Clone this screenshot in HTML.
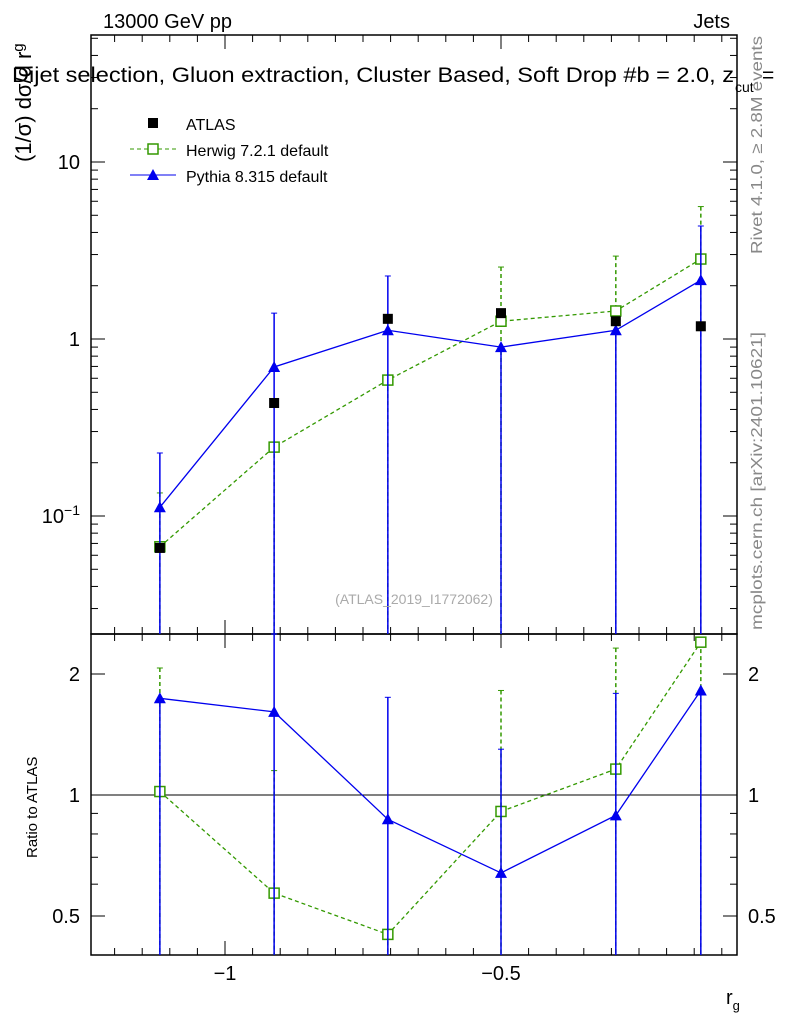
<!DOCTYPE html>
<html><head><meta charset="utf-8"><style>
body{margin:0;background:#fff;}
svg{font-family:"Liberation Sans",sans-serif;}
</style></head><body>
<svg id="c" width="786" height="1024" xmlns="http://www.w3.org/2000/svg"></svg>
<script>
const xCenters=[-1.118,-0.911,-0.705,-0.5,-0.292,-0.138];
const atlasVals=[0.066,0.435,1.30,1.40,1.26,1.18];
const herwigVals=[0.067,0.245,0.586,1.26,1.44,2.83];
const herwigErrUp=[0.135,0.245,0.586,2.55,2.94,5.6];
const pythiaVals=[0.112,0.695,1.12,0.90,1.12,2.15];
const pythiaErrUp=[0.227,1.40,2.27,0.90,1.12,4.35];
const herwigRatio=[1.02,0.57,0.45,0.91,1.16,2.4];
const herwigRatioUp=[2.07,1.15,0.45,1.82,2.32,2.4];
const pythiaRatio=[1.74,1.61,0.87,0.64,0.89,1.82];
const pythiaRatioUp=[1.74,3,1.75,1.30,1.79,1.82];
const xTicks=[-1,-0.5];
const xTickLabels=["\u22121","\u22120.5"];

const svg=document.getElementById('c');
const NS='http://www.w3.org/2000/svg';
function el(t,a,p){const e=document.createElementNS(NS,t);for(const k in a)e.setAttribute(k,a[k]);(p||svg).appendChild(e);return e;}
const L=91,R=737,T=35,M=634,B=955;
const X=v=>225+(v+1)*552;
const Y=v=>339-Math.log10(v)*177;
const YR=v=>795-Math.log2(v)*121;
const cl=(y,a,b)=>Math.max(a,Math.min(b,y));

let f=el('rect',{x:L,y:T,width:R-L,height:M-T,fill:'none',stroke:'#000','stroke-width':1.5});

f=el('rect',{x:L,y:M,width:R-L,height:B-M,fill:'none',stroke:'#000','stroke-width':1.5});


for(let v=-1.2;v<=-0.07;v+=0.05){
  const x=X(v);const major=Math.abs(v*2-Math.round(v*2))<1e-6;
  const len=major?14:7;
  for(const [yt,yb] of [[T,M],[M,B]]){
    el('line',{x1:x,x2:x,y1:yb,y2:yb-len,stroke:'#000'});
    el('line',{x1:x,x2:x,y1:yt,y2:yt+len,stroke:'#000'});
  }
}
xTicks.forEach((v,i)=>{const t=el('text',{x:X(v),y:980,'font-size':20,'text-anchor':'middle'});t.textContent=xTickLabels[i];
});
for(let d=-2;d<=1;d++){for(let m=1;m<10;m++){const v=m*Math.pow(10,d);const y=Y(v);if(y<T||y>M)continue;const len=m==1?14:7;
el('line',{x1:L,x2:L+len,y1:y,y2:y,stroke:'#000'});el('line',{x1:R,x2:R-len,y1:y,y2:y,stroke:'#000'});}}
[[10,'10'],[1,'1']].forEach(([v,s])=>{const t=el('text',{x:80,y:Y(v)+7,'font-size':20,'text-anchor':'end'});t.textContent=s;
});
let t=el('text',{x:80,y:Y(0.1)+7,'font-size':20,'text-anchor':'end'});t.innerHTML='10<tspan dy="-8" font-size="14">\u22121</tspan>';

[0.5,0.6,0.7,0.8,0.9,1,2].forEach(v=>{const y=YR(v);const len=(v==1||v==2||v==0.5)?14:7;
el('line',{x1:L,x2:L+len,y1:y,y2:y,stroke:'#000'});el('line',{x1:R,x2:R-len,y1:y,y2:y,stroke:'#000'});});
[[2,'2'],[1,'1'],[0.5,'0.5']].forEach(([v,s])=>{
 let a=el('text',{x:80,y:YR(v)+7,'font-size':20,'text-anchor':'end'});a.textContent=s;
 
 a=el('text',{x:748,y:YR(v)+7,'font-size':20});a.textContent=s;
 });
el('line',{x1:L,x2:R,y1:YR(1),y2:YR(1),stroke:'#000'});

function series(vals,up,color,dash,marker,Yf,top,bot,name){
  const g=el('g',{});
  vals.forEach((v,i)=>{const x=X(xCenters[i]);
    el('line',{x1:x,x2:x,y1:cl(Yf(up[i]),top,bot),y2:bot,stroke:color,'stroke-width':1.5,'stroke-dasharray':dash||''},g);
    el('line',{x1:x-3,x2:x+3,y1:cl(Yf(up[i]),top,bot),y2:cl(Yf(up[i]),top,bot),stroke:color},g);});
  el('polyline',{points:vals.map((v,i)=>X(xCenters[i])+','+Yf(v)).join(' '),fill:'none',stroke:color,'stroke-width':1.3,'stroke-dasharray':dash||''},g);
  vals.forEach((v,i)=>{const x=X(xCenters[i]),y=Yf(v);
    if(marker=='sq')el('rect',{x:x-5,y:y-5,width:10,height:10,fill:'#fff',stroke:color,'stroke-width':1.5},g);
    else el('polygon',{points:`${x},${y-6} ${x-6},${y+5} ${x+6},${y+5}`,fill:color},g);});
}
series(herwigVals,herwigErrUp,'#339900','4,3','sq',Y,T,M,'herwig-series');
series(pythiaVals,pythiaErrUp,'#0000ee','','tri',Y,T,M,'pythia-series');
const ga=el('g',{});
atlasVals.forEach((v,i)=>el('rect',{x:X(xCenters[i])-5,y:Y(v)-5,width:10,height:10,fill:'#000'},ga));
series(herwigRatio,herwigRatioUp,'#339900','4,3','sq',YR,M,B,'herwig-ratio');
series(pythiaRatio,pythiaRatioUp,'#0000ee','','tri',YR,M,B,'pythia-ratio');

const lg=el('g',{});
el('rect',{x:148,y:118,width:10,height:10,fill:'#000'},lg);
el('line',{x1:130,x2:176,y1:149,y2:149,stroke:'#339900','stroke-dasharray':'4,3'},lg);
el('rect',{x:148,y:144,width:10,height:10,fill:'#fff',stroke:'#339900','stroke-width':1.5},lg);
el('line',{x1:130,x2:176,y1:175,y2:175,stroke:'#0000ee'},lg);
el('polygon',{points:'153,169 147,180 159,180',fill:'#0000ee'},lg);
[['ATLAS',130],['Herwig 7.2.1 default',156],['Pythia 8.315 default',182]].forEach(([s,y])=>{const a=el('text',{x:186,y:y,'font-size':16},lg);a.textContent=s;});

function txt(s,a,name,html){const e=el('text',a);if(html)e.innerHTML=s;else e.textContent=s;return e;}
txt('13000 GeV pp',{x:103,y:28,'font-size':20},'energy-label');
txt('Jets',{x:730,y:28,'font-size':20,'text-anchor':'end'},'process-label');
txt('Dijet selection, Gluon extraction, Cluster Based, Soft Drop #b = 2.0, z',{x:12,y:82,'font-size':21,textLength:722,lengthAdjust:'spacingAndGlyphs'},'plot-title');
txt('cut',{x:735,y:92,'font-size':14},'plot-title-sub');
txt('=',{x:762,y:82,'font-size':21},'plot-title-eq');
txt('(1/σ) dσ/d r<tspan dy="-8" font-size="15">g</tspan>',{x:0,y:0,'font-size':22,transform:'translate(31,162) rotate(-90)'},'y-axis-title',true);
txt('Ratio to ATLAS',{x:0,y:0,'font-size':15,transform:'translate(37,858) rotate(-90)'},'ratio-axis-title');
txt('r<tspan dy="6" font-size="13">g</tspan>',{x:726,y:1004,'font-size':20},'x-axis-title',true);
txt('(ATLAS_2019_I1772062)',{x:414,y:604,'font-size':14,fill:'#aaa','text-anchor':'middle'},'analysis-id');
txt('Rivet 4.1.0, ≥ 2.8M events',{x:0,y:0,'font-size':16,fill:'#888',textLength:218,lengthAdjust:'spacingAndGlyphs',transform:'translate(762,254) rotate(-90)'},'rivet-label');
txt('mcplots.cern.ch [arXiv:2401.10621]',{x:0,y:0,'font-size':16,fill:'#888',textLength:298,lengthAdjust:'spacingAndGlyphs',transform:'translate(762,630) rotate(-90)'},'mcplots-label');
</script>
</body></html>
